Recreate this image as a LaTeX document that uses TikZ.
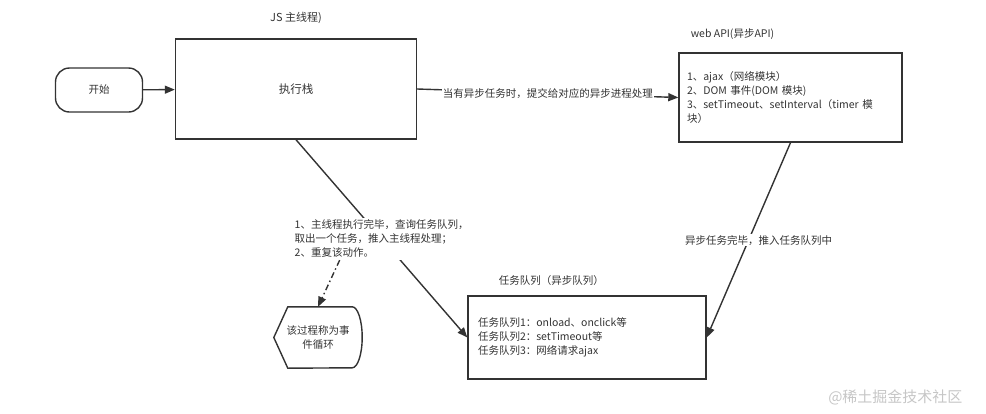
\documentclass[tikz,border=0pt]{standalone}
\usepackage{xcolor}
\usepackage{fontspec}
\setmainfont{Noto Sans CJK SC}
\usepackage{tikz}
\usetikzlibrary{positioning,arrows.meta}

\definecolor{inkgray}{HTML}{333333}

\tikzset{
  box/.style={draw=inkgray, line width=1.4pt, inner sep=0pt},
  flow/.style={draw=inkgray, line width=1.4pt, -{Triangle[length=10pt,width=8pt]}},
  txt/.style={text=inkgray, font=\fontsize{10.5}{14}\selectfont}
}

\begin{document}
\begin{tikzpicture}[x=1pt, y=1pt]

% Fixed canvas
\useasboundingbox (0,0) rectangle (986,-413);

% Start terminal and execution stack
\node[box, txt, rounded corners=14pt, minimum width=87pt, minimum height=44pt] (start) at (99,-90) {开始};
\node[box, txt, font=\fontsize{11.5}{14}\selectfont, minimum width=241pt, minimum height=100pt] (stack) at (296,-89) {执行栈};
\node[txt, font=\fontsize{11}{14}\selectfont] (stacktitle) at (296,-18) {JS 主线程)};

% Web API box
\node[box, txt, inner sep=8pt, text width=207pt, minimum height=89pt, align=left] (webapi) at (790.5,-97.5)
  {1、ajax（网络模块）\\2、DOM 事件(DOM 模块)\\3、setTimeout、setInterval（timer 模\\块）};
\node[txt, anchor=west] (webapititle) at ([xshift=9pt,yshift=18pt]webapi.north west) {web API(异步API)};

% Task queue box
\node[box, txt, inner sep=10pt, text width=218pt, minimum height=83pt, align=left] (queue) at (587,-337.5)
  {任务队列1：onload、onclick等\\任务队列2：setTimeout等\\任务队列3：网络请求ajax};
\node[txt, anchor=west] (queuetitle) at ([xshift=28pt,yshift=15pt]queue.north west) {任务队列（异步队列）};

% Event loop display shape
\node[txt, align=center, minimum width=88pt, minimum height=61pt, inner sep=0pt] (loop) at (318,-337.5) {该过程称为事\\件循环};
\draw[box] (loop.west) -- ([xshift=14pt]loop.north west) -- ([xshift=-10pt]loop.north east)
  arc[start angle=90, end angle=-90, x radius=10pt, y radius=30.5pt]
  -- ([xshift=14pt]loop.south west) -- cycle;

% Connectors
\draw[flow] (start) -- (stack);
\draw[flow] (stack.east) -- node[txt, fill=white, inner sep=1pt] (submit) {当有异步任务时，提交给对应的异步进程处理} (webapi.west);
\draw[flow] (webapi.south) -- node[txt, fill=white, inner sep=1pt, xshift=10pt] (done) {异步任务完毕，推入任务队列中} (queue.east);
\draw[flow] (stack.south) -- node[txt, fill=white, inner sep=2pt, align=left] (cycle) {1、主线程执行完毕，查询任务队列，\\取出一个任务，推入主线程处理；\\2、重复该动作。} (queue.west);

% Dash-dot pointer to the event loop note
\draw[flow, dash pattern=on 6pt off 3pt on 1.5pt off 3pt] ([xshift=-42pt]cycle.south) -- (loop.north);

% Watermark
\node[text=gray!45, font=\fontsize{15}{16}\selectfont, anchor=east] (mark) at (966,-397) {@稀土掘金技术社区};

\end{tikzpicture}
\end{document}
